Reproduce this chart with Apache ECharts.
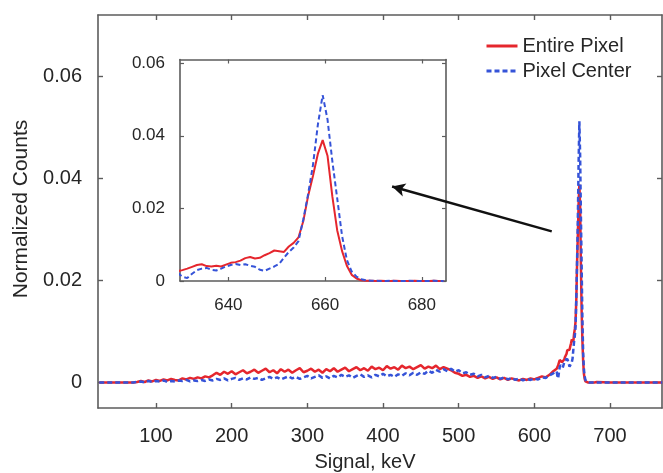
<!DOCTYPE html>
<html>
<head>
<meta charset="utf-8">
<script src="https://cdn.jsdelivr.net/npm/echarts@6/dist/echarts.min.js"></script>
<style>
  html, body { margin: 0; padding: 0; background: #fff; }
  #chart { width: 663px; height: 473px; }
</style>
</head>
<body>
<div id="chart"></div>
<script>
// Spectrum below the photopeak: 5 keV bins starting at 25 keV
const LOW_BIN_START = 25;
const LOW_BIN_WIDTH = 5;

const entireLow = [
  0, 0, 0, 0, 0, 0, 0, 0, 0, 0,
  0.0001, 0.0003, 0.0001, 0.0004, 0.0002, 0.0005, 0.0003, 0.0006, 0.0004, 0.0007,
  0.0005, 0.0004, 0.0008, 0.0006, 0.0009, 0.0007, 0.0010, 0.0008, 0.0012, 0.0010,
  0.0014, 0.0019, 0.0015, 0.0021, 0.0017, 0.0022, 0.0016, 0.0020, 0.0024, 0.0018,
  0.0021, 0.0025, 0.0019, 0.0023, 0.0027, 0.0020, 0.0024, 0.0018, 0.0026, 0.0021,
  0.0025, 0.0019, 0.0024, 0.0028, 0.0020, 0.0023, 0.0027, 0.0021, 0.0025, 0.0019,
  0.0026, 0.0022, 0.0028, 0.0021, 0.0025, 0.0029, 0.0022, 0.0026, 0.0030, 0.0024,
  0.0028, 0.0023, 0.0031, 0.0026, 0.0029, 0.0024, 0.0032, 0.0027, 0.0030, 0.0025,
  0.0033, 0.0028, 0.0031, 0.0026, 0.0030, 0.0034, 0.0027, 0.0031, 0.0028, 0.0033,
  0.0026, 0.0030, 0.0027, 0.0024, 0.0019, 0.0017, 0.0013, 0.0015, 0.0011, 0.0013,
  0.0009, 0.0012, 0.0008, 0.0011, 0.0007, 0.0010, 0.0006, 0.0009, 0.0005, 0.0008,
  0.0006, 0.0004, 0.0007, 0.0005, 0.0008, 0.0006, 0.0009, 0.0012, 0.0010, 0.0015,
  0.0022
];

const centerLow = [
  0, 0, 0, 0, 0, 0, 0, 0, 0, 0,
  0.0001, 0.0002, 0.0000, 0.0003, 0.0001, 0.0003, 0.0002, 0.0004, 0.0001, 0.0003,
  0.0002, 0.0004, 0.0003, 0.0005, 0.0002, 0.0004, 0.0003, 0.0005, 0.0003, 0.0006,
  0.0004, 0.0007, 0.0005, 0.0008, 0.0004, 0.0007, 0.0009, 0.0005, 0.0008, 0.0006,
  0.0010, 0.0007, 0.0009, 0.0005, 0.0008, 0.0011, 0.0007, 0.0010, 0.0006, 0.0009,
  0.0012, 0.0008, 0.0011, 0.0007, 0.0010, 0.0013, 0.0008, 0.0011, 0.0014, 0.0009,
  0.0012, 0.0008, 0.0013, 0.0010, 0.0015, 0.0011, 0.0014, 0.0009, 0.0013, 0.0016,
  0.0011, 0.0014, 0.0010, 0.0015, 0.0012, 0.0017, 0.0012, 0.0015, 0.0011, 0.0016,
  0.0013, 0.0018, 0.0014, 0.0019, 0.0015, 0.0020, 0.0017, 0.0023, 0.0019, 0.0025,
  0.0021, 0.0026, 0.0022, 0.0027, 0.0021, 0.0024, 0.0018, 0.0020, 0.0015, 0.0017,
  0.0012, 0.0015, 0.0010, 0.0013, 0.0009, 0.0011, 0.0007, 0.0010, 0.0006, 0.0009,
  0.0005, 0.0008, 0.0004, 0.0007, 0.0005, 0.0008, 0.0006, 0.0010, 0.0009, 0.0014,
  0.0018
];

// Photopeak region: 1 keV bins centred from 629.5 keV
const PEAK_BIN_START = 629.5;
const PEAK_BIN_WIDTH = 1;

const entirePeak = [
  0.0027, 0.0030, 0.0034, 0.0039, 0.0044, 0.0046, 0.0041, 0.0040, 0.0042, 0.0040,
  0.0045, 0.0050, 0.0052, 0.0056, 0.0063, 0.0066, 0.0062, 0.0064, 0.0071, 0.0077,
  0.0084, 0.0082, 0.0080, 0.0095, 0.0105, 0.0120, 0.0165, 0.0235, 0.0290, 0.0350,
  0.0388, 0.0345, 0.0233, 0.0140, 0.0083, 0.0042, 0.0017, 0.0007, 0.0002, 0.0001,
  0.0001, 0, 0.0001, 0, 0, 0.0001, 0, 0, 0, 0.0001,
  0, 0, 0, 0.0001, 0, 0
];

const centerPeak = [
  0.0022, 0.0012, 0.0008, 0.0020, 0.0030, 0.0034, 0.0036, 0.0031, 0.0029, 0.0034,
  0.0040, 0.0044, 0.0047, 0.0044, 0.0046, 0.0042, 0.0039, 0.0031, 0.0028, 0.0034,
  0.0040, 0.0047, 0.0064, 0.0080, 0.0092, 0.0110, 0.0170, 0.0240, 0.0320, 0.0430,
  0.0512, 0.0445, 0.0330, 0.0228, 0.0125, 0.0058, 0.0026, 0.0012, 0.0005, 0.0002,
  0.0001, 0.0001, 0, 0, 0.0001, 0, 0, 0, 0.0001, 0,
  0, 0, 0, 0.0001, 0, 0
];

// Flat tail above the peak
const tailEnergy = [700, 769];
const entireTail = [0, 0];
const centerTail = [0, 0];

// Tick labels
const mainXTicks = [100, 200, 300, 400, 500, 600, 700];
const mainYTicks = [0, 0.02, 0.04, 0.06];
const insetXTicks = [640, 660, 680];
const insetYTicks = [0, 0.02, 0.04, 0.06];

// Annotation arrow (data units of the main axes): tail near the peak, head in the zoom panel
const arrowFrom = [623, 0.0296];
const arrowTo = [412, 0.0384];

const SERIES_NAMES = ['Entire Pixel', 'Pixel Center'];
const RED = '#e5262d';
const BLUE = '#3553d8';
const FRAME = '#5c5c5c';
const TEXT = '#262626';
const FONT = '"Liberation Sans", Arial, Helvetica, sans-serif';

function pairs(start, width, values) {
  return values.map((v, i) => [start + i * width, v]);
}
function tailPairs(values) {
  return values.map((v, i) => [tailEnergy[i], v]);
}
const entirePeakPairs = pairs(PEAK_BIN_START, PEAK_BIN_WIDTH, entirePeak);
const centerPeakPairs = pairs(PEAK_BIN_START, PEAK_BIN_WIDTH, centerPeak);
const entireAll = pairs(LOW_BIN_START, LOW_BIN_WIDTH, entireLow).concat(entirePeakPairs, tailPairs(entireTail));
const centerAll = pairs(LOW_BIN_START, LOW_BIN_WIDTH, centerLow).concat(centerPeakPairs, tailPairs(centerTail));

const yFmt = v => (v === 0 ? '0' : v.toFixed(2));

function frameAxis(extra) {
  return Object.assign({
    type: 'value',
    axisLine: { show: true, onZero: false, lineStyle: { color: FRAME, width: 1.6 } },
    splitLine: { show: false },
    axisLabel: { show: false },
    axisTick: { show: true, inside: true, length: 5, lineStyle: { color: FRAME, width: 1.4 } }
  }, extra);
}

const mainX = { min: 23.35, max: 768.7 };
const mainY = { min: -0.005, max: 0.072 };
const insetX = { min: 630, max: 685 };
const insetY = { min: 0, max: 0.061 };

const chart = echarts.init(document.getElementById('chart'), null, { renderer: 'canvas' });

chart.setOption({
  animation: false,
  backgroundColor: '#fff',
  textStyle: { fontFamily: FONT },
  grid: [
    { left: 98, top: 15, width: 564, height: 393, outerBoundsMode: 'none' },
    { left: 180, top: 59.5, width: 266, height: 221.5, outerBoundsMode: 'none' }
  ],
  legend: {
    data: SERIES_NAMES,
    left: 480,
    top: 31,
    orient: 'vertical',
    itemWidth: 31,
    itemHeight: 14,
    itemGap: 5,
    itemStyle: { opacity: 0 },
    lineStyle: { width: 3 },
    textStyle: { fontSize: 20, color: TEXT, fontFamily: FONT },
    selectedMode: false
  },
  xAxis: [
    frameAxis(Object.assign({
      gridIndex: 0, position: 'bottom',
      axisTick: { show: true, inside: true, length: 5, customValues: mainXTicks, lineStyle: { color: FRAME, width: 1.4 } },
      axisLabel: { show: true, customValues: mainXTicks, margin: 18, fontSize: 20, color: TEXT, fontFamily: FONT }
    }, mainX)),
    frameAxis(Object.assign({
      gridIndex: 0, position: 'top',
      axisTick: { show: true, inside: true, length: 5, customValues: mainXTicks, lineStyle: { color: FRAME, width: 1.4 } }
    }, mainX)),
    frameAxis(Object.assign({
      gridIndex: 1, position: 'bottom',
      axisTick: { show: true, inside: true, length: 4, customValues: insetXTicks, lineStyle: { color: FRAME, width: 1.2 } },
      axisLabel: { show: true, customValues: insetXTicks, margin: 16, fontSize: 17, color: TEXT, fontFamily: FONT }
    }, insetX)),
    frameAxis(Object.assign({
      gridIndex: 1, position: 'top',
      axisTick: { show: true, inside: true, length: 4, customValues: insetXTicks, lineStyle: { color: FRAME, width: 1.2 } }
    }, insetX))
  ],
  yAxis: [
    frameAxis(Object.assign({
      gridIndex: 0, position: 'left',
      axisTick: { show: true, inside: true, length: 5, customValues: mainYTicks, lineStyle: { color: FRAME, width: 1.4 } },
      axisLabel: { show: true, customValues: mainYTicks, margin: 16, fontSize: 20, color: TEXT, fontFamily: FONT, formatter: yFmt }
    }, mainY)),
    frameAxis(Object.assign({
      gridIndex: 0, position: 'right',
      axisTick: { show: true, inside: true, length: 5, customValues: mainYTicks, lineStyle: { color: FRAME, width: 1.4 } }
    }, mainY)),
    frameAxis(Object.assign({
      gridIndex: 1, position: 'left',
      axisTick: { show: true, inside: true, length: 4, customValues: insetYTicks, lineStyle: { color: FRAME, width: 1.2 } },
      axisLabel: { show: true, customValues: insetYTicks, margin: 15, fontSize: 17, color: TEXT, fontFamily: FONT, formatter: yFmt }
    }, insetY)),
    frameAxis(Object.assign({
      gridIndex: 1, position: 'right',
      axisTick: { show: true, inside: true, length: 4, customValues: insetYTicks, lineStyle: { color: FRAME, width: 1.2 } }
    }, insetY))
  ],
  series: [
    {
      name: SERIES_NAMES[0], type: 'line', xAxisIndex: 0, yAxisIndex: 0,
      data: entireAll, symbol: 'none', showSymbol: false,
      lineStyle: { color: RED, width: 2.5 }, itemStyle: { color: RED }, z: 3
    },
    {
      name: SERIES_NAMES[1], type: 'line', xAxisIndex: 0, yAxisIndex: 0,
      data: centerAll, symbol: 'none', showSymbol: false,
      lineStyle: { color: BLUE, width: 2.5, type: [5, 3] }, itemStyle: { color: BLUE }, z: 4,
      markLine: {
        silent: true,
        symbol: ['none', 'arrow'],
        symbolSize: [10, 13],
        label: { show: false },
        lineStyle: { color: '#111', width: 2.5, type: 'solid' },
        data: [[{ coord: arrowFrom }, { coord: arrowTo }]],
        z: 10
      }
    },
    {
      name: SERIES_NAMES[0], type: 'line', xAxisIndex: 2, yAxisIndex: 2,
      data: entirePeakPairs, symbol: 'none', showSymbol: false,
      lineStyle: { color: RED, width: 2 }, itemStyle: { color: RED }, z: 3
    },
    {
      name: SERIES_NAMES[1], type: 'line', xAxisIndex: 2, yAxisIndex: 2,
      data: centerPeakPairs, symbol: 'none', showSymbol: false,
      lineStyle: { color: BLUE, width: 2, type: [5, 3] }, itemStyle: { color: BLUE }, z: 4
    }
  ],
  graphic: [
    {
      type: 'text', x: 365, y: 462,
      style: { text: 'Signal, keV', fill: TEXT, font: '20px ' + FONT, align: 'center', verticalAlign: 'middle' }
    },
    {
      type: 'text', x: 21, y: 209, rotation: Math.PI / 2,
      style: { text: 'Normalized Counts', fill: TEXT, font: '21px ' + FONT, align: 'center', verticalAlign: 'middle' }
    }
  ]
});
</script>
</body>
</html>
